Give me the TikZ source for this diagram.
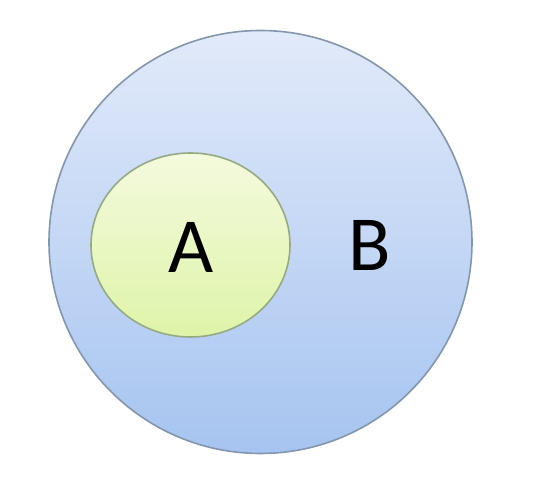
\documentclass[tikz,border=0pt]{standalone}
\usepackage{fontspec}
\setmainfont{Carlito}
\usetikzlibrary{shapes.geometric}
\definecolor{btop}{RGB}{226,234,250}
\definecolor{bbot}{RGB}{166,196,240}
\definecolor{bedge}{RGB}{132,150,172}
\definecolor{atop}{RGB}{244,250,222}
\definecolor{abot}{RGB}{222,244,168}
\definecolor{aedge}{RGB}{150,170,130}
\tikzset{
  setB/.style={circle, draw=bedge, line width=1.6pt, top color=btop, bottom color=bbot, minimum size=423pt, inner sep=0pt},
  setA/.style={ellipse, draw=aedge, line width=1.6pt, top color=atop, bottom color=abot, minimum width=199pt, minimum height=184pt, inner sep=0pt},
  lbl/.style={font=\fontsize{78}{80}\selectfont, inner sep=0pt}
}
\begin{document}
\begin{tikzpicture}[x=1pt,y=1pt]
\useasboundingbox (0,0) rectangle (542,498);
\node[setB] (B) at (260.5,256) {};
\node[setA] (A) at (190.5,253) {};
\node[lbl] (la) at (191,251) {A};
\node[lbl] (lb) at (370,253) {B};
\end{tikzpicture}
\end{document}
